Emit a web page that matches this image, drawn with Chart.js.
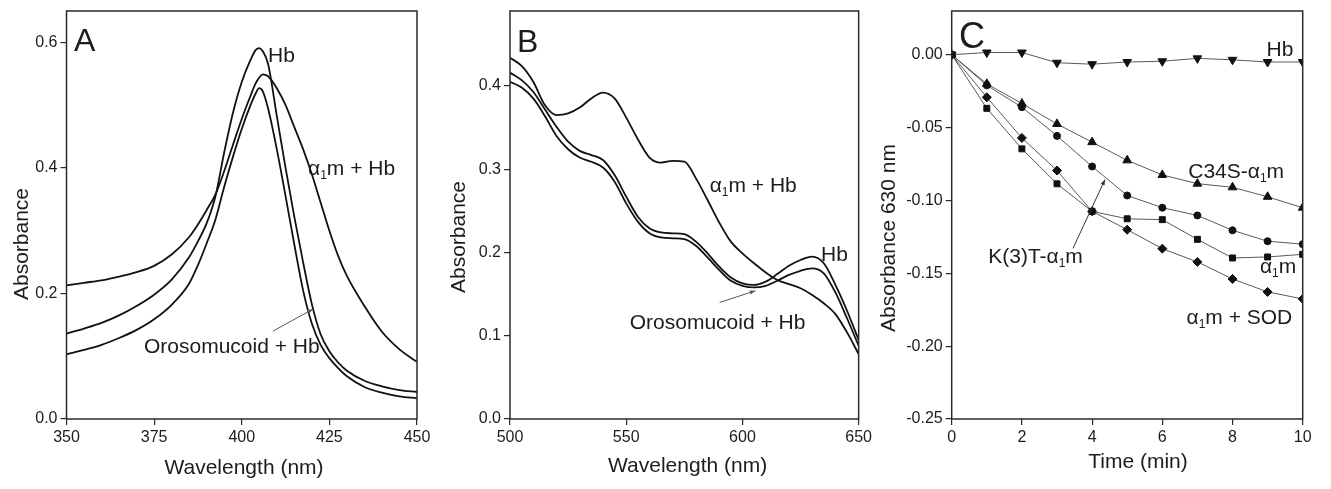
<!DOCTYPE html>
<html><head><meta charset="utf-8">
<script src="https://cdn.jsdelivr.net/npm/chart.js@4.4.1/dist/chart.umd.min.js"></script>
<style>
html,body{margin:0;padding:0;background:#fff;width:1331px;height:489px;overflow:hidden}
canvas{position:absolute;top:0}
</style></head><body>
<canvas id="cA" width="440" height="489" style="left:0px"></canvas>
<canvas id="cB" width="435" height="489" style="left:440px"></canvas>
<canvas id="cC" width="456" height="489" style="left:875px"></canvas>
<script>
const FONT = '"Liberation Sans", Arial, Helvetica, sans-serif';
const INK = '#1c1c1c';

// ---------- Panel A : Soret region ----------
const wavelengthA = [350,355,360,365,370,375,380,385,387.5,390,392.5,395,397.5,400,402.5,404,405,406,407.5,410,412.5,415,417.5,420,422.5,425,427.5,430,435,440,445,450];
const hbA =      [0.136,0.144,0.153,0.165,0.180,0.198,0.222,0.258,0.283,0.312,0.355,0.425,0.488,0.537,0.572,0.588,0.591,0.586,0.566,0.483,0.400,0.322,0.250,0.183,0.135,0.108,0.090,0.077,0.061,0.052,0.046,0.043];
const a1mHbA =   [0.213,0.217,0.221,0.227,0.234,0.244,0.262,0.290,0.310,0.333,0.358,0.395,0.437,0.478,0.515,0.535,0.544,0.549,0.546,0.527,0.500,0.465,0.430,0.390,0.345,0.300,0.260,0.228,0.180,0.139,0.111,0.091];
const oroHbA =   [0.103,0.110,0.118,0.129,0.142,0.159,0.182,0.216,0.245,0.280,0.318,0.370,0.418,0.462,0.500,0.519,0.527,0.522,0.495,0.430,0.355,0.278,0.205,0.152,0.118,0.097,0.081,0.068,0.051,0.042,0.036,0.033];

// ---------- Panel B : visible region ----------
const wavelengthB = [500,505,510,515,520,525,530,535,540,545,550,555,560,565,570,575,580,585,590,595,600,605,610,615,620,625,630,635,640,645,650];
const a1mHbB = [0.434,0.424,0.405,0.377,0.365,0.367,0.374,0.385,0.392,0.385,0.362,0.336,0.314,0.308,0.310,0.309,0.289,0.263,0.236,0.213,0.199,0.187,0.176,0.167,0.162,0.157,0.149,0.139,0.126,0.104,0.078];
const hbB =    [0.416,0.407,0.393,0.372,0.351,0.333,0.322,0.317,0.311,0.293,0.267,0.243,0.229,0.224,0.223,0.222,0.213,0.199,0.183,0.170,0.163,0.161,0.165,0.174,0.184,0.191,0.195,0.187,0.161,0.130,0.095];
const oroHbB = [0.405,0.398,0.385,0.364,0.340,0.324,0.314,0.309,0.302,0.285,0.259,0.237,0.223,0.218,0.217,0.216,0.208,0.194,0.179,0.166,0.160,0.158,0.160,0.166,0.173,0.178,0.181,0.175,0.152,0.121,0.088];

// ---------- Panel C : time course at 630 nm ----------
const timeC   = [0,1,2,3,4,5,6,7,8,9,10];
const hbC     = [0,0.0015,0.0015,-0.0055,-0.0065,-0.005,-0.0045,-0.0025,-0.0035,-0.005,-0.005];
const c34sC   = [0,-0.020,-0.0335,-0.0475,-0.060,-0.0725,-0.0825,-0.0885,-0.091,-0.0975,-0.105];
const k3tC    = [0,-0.021,-0.036,-0.0557,-0.0767,-0.0966,-0.105,-0.1103,-0.1205,-0.128,-0.130];
const a1mC    = [0,-0.0368,-0.0646,-0.0886,-0.1075,-0.1126,-0.1132,-0.1267,-0.1395,-0.1388,-0.137];
const a1mSodC = [0,-0.0292,-0.0571,-0.0795,-0.1075,-0.1201,-0.1331,-0.1422,-0.1539,-0.1628,-0.1676];

function pts(xs, ys){ return xs.map((x,i)=>({x:x, y:ys[i]})); }

function drawRich(ctx, str, x, y, size, align){
  const parts = [];
  for (let i=0;i<str.length;i++){
    if (str[i]==='_'){ parts.push({t:str[i+1], sub:true}); i++; }
    else if (parts.length && !parts[parts.length-1].sub) parts[parts.length-1].t += str[i];
    else parts.push({t:str[i], sub:false});
  }
  const subSize = Math.round(size*0.58);
  let w = 0;
  parts.forEach(p=>{ ctx.font = (p.sub?subSize:size)+'px '+FONT; p.w = ctx.measureText(p.t).width; w += p.w; });
  let cx = align==='right' ? x-w : (align==='center' ? x-w/2 : x);
  ctx.textAlign='left'; ctx.textBaseline='middle';
  parts.forEach(p=>{ ctx.font=(p.sub?subSize:size)+'px '+FONT; ctx.fillText(p.t, cx, p.sub ? y+size*0.32 : y); cx += p.w; });
}

const decor = {
  id:'decor',
  afterDatasetsDraw(chart, args, o){
    const ctx = chart.ctx, a = chart.chartArea, xs = chart.scales.x, ys = chart.scales.y;
    const off = o.offsetX;
    ctx.save();
    ctx.strokeStyle = '#2a2a2a'; ctx.lineWidth = 1.5;
    ctx.strokeRect(a.left, a.top, a.right-a.left, a.bottom-a.top);
    ctx.fillStyle = INK;
    ctx.font = o.letterSize+'px '+FONT; ctx.textAlign='left'; ctx.textBaseline='alphabetic';
    ctx.fillText(o.letter, a.left+o.letterDx, a.top+o.letterDy);
    // axis titles
    ctx.textAlign='center'; ctx.textBaseline='middle';
    ctx.font = '21px '+FONT;
    ctx.fillText(o.xTitle, o.xTitlePos[0]-off, o.xTitlePos[1]);
    ctx.save(); ctx.translate(o.yTitlePos[0]-off, o.yTitlePos[1]); ctx.rotate(-Math.PI/2);
    ctx.fillText(o.yTitle, 0, 0); ctx.restore();
    // arrows
    (o.arrows||[]).forEach(ar=>{
      const x1=xs.getPixelForValue(ar.from[0]), y1=ys.getPixelForValue(ar.from[1]);
      const x2=xs.getPixelForValue(ar.to[0]), y2=ys.getPixelForValue(ar.to[1]);
      ctx.strokeStyle = ar.color; ctx.lineWidth = 1;
      ctx.beginPath(); ctx.moveTo(x1,y1); ctx.lineTo(x2,y2); ctx.stroke();
      const ang = Math.atan2(y2-y1, x2-x1), L = 6;
      ctx.fillStyle = ar.color;
      ctx.beginPath(); ctx.moveTo(x2,y2);
      ctx.lineTo(x2-L*Math.cos(ang-0.35), y2-L*Math.sin(ang-0.35));
      ctx.lineTo(x2-L*Math.cos(ang+0.35), y2-L*Math.sin(ang+0.35));
      ctx.closePath(); ctx.fill();
    });
    ctx.fillStyle = INK;
    (o.labels||[]).forEach(lb=>{
      drawRich(ctx, lb.text, xs.getPixelForValue(lb.x), ys.getPixelForValue(lb.y), 21, lb.align||'left');
    });
    ctx.restore();
  }
};

function axisX(min, max, step, fmt){
  return {type:'linear', min:min, max:max,
    ticks:{stepSize:step, color:INK, font:{family:FONT, size:16}, padding:3, maxRotation:0, autoSkip:false, callback:fmt},
    grid:{display:true, drawOnChartArea:false, drawTicks:true, tickLength:6, color:'#2a2a2a', lineWidth:1.2},
    border:{display:false},
    afterFit(s){ s.height = 70; }
  };
}
function axisY(min, max, step, fmt, width){
  return {type:'linear', min:min, max:max,
    ticks:{stepSize:step, color:INK, font:{family:FONT, size:16, lineHeight:1}, padding:3, callback:fmt},
    grid:{display:true, drawOnChartArea:false, drawTicks:true, tickLength:6, color:'#2a2a2a', lineWidth:1.2},
    border:{display:false},
    afterBuildTicks(s){ s.ticks = s.ticks.filter(t=>Math.abs(t.value/step - Math.round(t.value/step))<1e-6); },
    afterFit(s){ s.width = width; }
  };
}
function curve(data){
  return {data:data, borderColor:'#111', borderWidth:1.8, pointRadius:0, fill:false, cubicInterpolationMode:'monotone'};
}
function series(data, style, radius, rot){
  return {data:data, borderColor:'#5a5a5a', borderWidth:1, pointStyle:style, pointRadius:radius, pointRotation:rot||0,
    pointBackgroundColor:'#111', pointBorderColor:'#111', pointBorderWidth:1, fill:false, tension:0, clip:0};
}
const common = {responsive:false, animation:false, devicePixelRatio:1,
  events:[], plugins:{legend:{display:false}, tooltip:{enabled:false}}};

new Chart(document.getElementById('cA'), {
  type:'line',
  data:{datasets:[curve(pts(wavelengthA,hbA)), curve(pts(wavelengthA,a1mHbA)), curve(pts(wavelengthA,oroHbA))]},
  options:Object.assign({}, common, {
    layout:{padding:{left:0, right:23, top:10, bottom:0}},
    scales:{x:axisX(350,450,25,v=>String(v)), y:axisY(0,0.65,0.2,v=>v.toFixed(1),66.5)},
    plugins:Object.assign({}, common.plugins, {decor:{
      offsetX:0, letter:'A', letterSize:32, letterDx:7.5, letterDy:40,
      xTitle:'Wavelength (nm)', xTitlePos:[244,468], yTitle:'Absorbance', yTitlePos:[22.5,244],
      labels:[{text:'Hb', x:407.5, y:0.578},{text:'α_1m + Hb', x:418.9, y:0.398},{text:'Orosomucoid + Hb', x:372.1, y:0.114}],
      arrows:[{from:[408.9,0.140], to:[420.3,0.175], color:'#555'}]
    }})
  }),
  plugins:[decor]
});

new Chart(document.getElementById('cB'), {
  type:'line',
  data:{datasets:[curve(pts(wavelengthB,a1mHbB)), curve(pts(wavelengthB,hbB)), curve(pts(wavelengthB,oroHbB))]},
  options:Object.assign({}, common, {
    layout:{padding:{left:0, right:15.7, top:9.3, bottom:0}},
    scales:{x:axisX(500,650,50,v=>String(v)), y:axisY(0,0.49,0.1,v=>v.toFixed(1),70)},
    plugins:Object.assign({}, common.plugins, {decor:{
      offsetX:440, letter:'B', letterSize:32, letterDx:7, letterDy:41,
      xTitle:'Wavelength (nm)', xTitlePos:[687.6,466], yTitle:'Absorbance', yTitlePos:[459,237],
      labels:[{text:'α_1m + Hb', x:585.9, y:0.28},{text:'Hb', x:633.8, y:0.197},{text:'Orosomucoid + Hb', x:551.5, y:0.115}],
      arrows:[{from:[590.2,0.140], to:[605.6,0.154], color:'#555'}]
    }})
  }),
  plugins:[decor]
});

new Chart(document.getElementById('cC'), {
  type:'line',
  data:{datasets:[
    series(pts(timeC,hbC),'triangle',5,180),
    series(pts(timeC,c34sC),'triangle',5,0),
    series(pts(timeC,k3tC),'circle',3.5,0),
    series(pts(timeC,a1mC),'rect',4.2,0),
    series(pts(timeC,a1mSodC),'rectRot',4.5,0)
  ]},
  options:Object.assign({}, common, {
    layout:{padding:{left:0, right:28.3, top:9.3, bottom:0}},
    scales:{x:axisX(0,10,2,v=>String(v)), y:axisY(-0.25,0.03,0.05,v=>v.toFixed(2),76.7)},
    plugins:Object.assign({}, common.plugins, {decor:{
      offsetX:875, letter:'C', letterSize:36, letterDx:7.3, letterDy:37,
      xTitle:'Time (min)', xTitlePos:[1138,462], yTitle:'Absorbance 630 nm', yTitlePos:[889,238],
      labels:[{text:'Hb', x:8.97, y:0.0034},{text:'C34S-α_1m', x:6.74, y:-0.0806},{text:'K(3)T-α_1m', x:1.04, y:-0.1388},
              {text:'α_1m', x:8.78, y:-0.1457},{text:'α_1m + SOD', x:6.69, y:-0.181}],
      arrows:[{from:[3.456,-0.1329], to:[4.368,-0.0856], color:'#333'}]
    }})
  }),
  plugins:[decor]
});
</script>
</body></html>
